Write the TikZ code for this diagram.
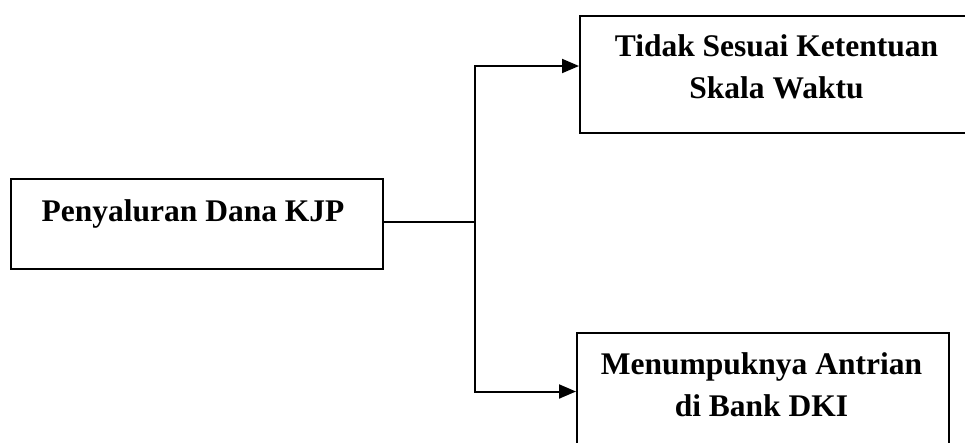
\documentclass[tikz,border=0pt]{standalone}
\usepackage{fontspec}
\setmainfont{Liberation Serif}
\usetikzlibrary{arrows.meta}
\begin{document}
\begin{tikzpicture}[x=1pt,y=-1pt,
  frame/.style={draw,line width=2pt,rectangle,inner sep=0pt},
  caption/.style={font=\fontsize{31.5}{42}\selectfont\bfseries,align=center,anchor=base,inner sep=0pt},
  link/.style={line width=2pt},
  arrowlink/.style={link,-{Triangle[length=17pt,width=14pt]}}]
  \useasboundingbox (0,0) rectangle (965,442);

  % boxes
  \node[frame,minimum width=372pt,minimum height=90pt] (src) at (197,224) {};
  \node[frame,minimum width=393pt,minimum height=117pt] (late) at (776.5,74.5) {};
  \node[frame,minimum width=372pt,minimum height=117pt] (queue) at (763,391.5) {};

  % box texts (anchored at the baseline of the last line)
  \node[caption] (srcT) at (193,221) {Penyaluran Dana KJP};
  \node[caption] (lateT) at (776.5,98.5) {Tidak Sesuai Ketentuan\\Skala Waktu};
  \node[caption] (queueT) at (761.5,416) {Menumpuknya Antrian\\di Bank DKI};

  % connectors
  \coordinate (split) at (475,222);
  \draw[link] (src.east |- split) -- (split);
  \draw[arrowlink] (split) |- ([yshift=8.5pt]late.west);
  \draw[arrowlink] (split) |- (queue.west);
\end{tikzpicture}
\end{document}
